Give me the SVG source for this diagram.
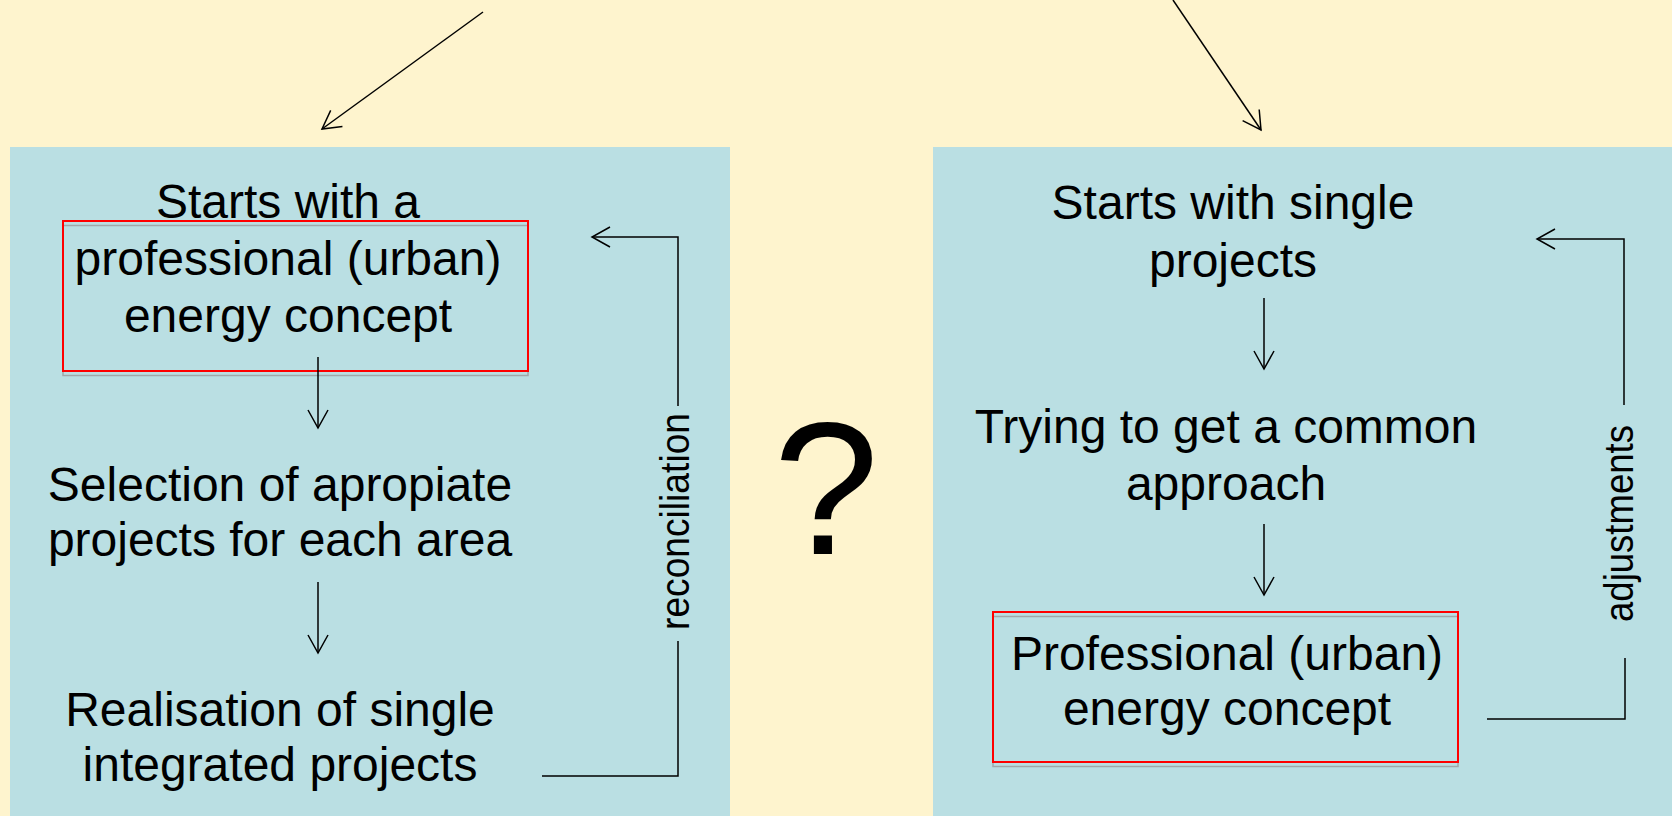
<svg xmlns="http://www.w3.org/2000/svg" width="1672" height="816" viewBox="0 0 1672 816">
<style>
.t{font-family:"Liberation Sans",Arial,sans-serif;font-size:48px;fill:#000;text-anchor:middle}
.r{font-family:"Liberation Sans",Arial,sans-serif;font-size:41px;fill:#000;text-anchor:middle}
.q{font-family:"Liberation Sans",Arial,sans-serif;font-size:190px;fill:#000;text-anchor:middle}
.c{fill:none;stroke:#000;stroke-width:1.5}
.red{fill:none;stroke:#FF0000;stroke-width:2}
.grey{fill:none;stroke:#A0A8AA;stroke-width:1.5}
</style>
<defs>
<marker id="arr" markerUnits="userSpaceOnUse" viewBox="0 0 24 24" markerWidth="24" markerHeight="24" refX="19" refY="12" orient="auto">
<path d="M1,2 L19,12 L1,22" fill="none" stroke="#000" stroke-width="1.5"/>
</marker>
</defs>
<rect width="1672" height="816" fill="#FEF4CE"/>
<g id="panel-left"><rect x="10" y="147" width="720" height="669" fill="#BADFE3"/></g>
<g id="panel-right"><rect x="933" y="147" width="739" height="669" fill="#BADFE3"/></g>
<g id="node-l1">
<rect class="grey" x="63" y="225.5" width="465" height="150"/>
<rect class="red" x="63" y="221" width="465" height="150"/>
<text class="t" x="288" y="218">Starts with a</text>
<text class="t" x="288" y="275">professional (urban)</text>
<text class="t" x="288" y="332">energy concept</text>
</g>
<g id="node-l2">
<text class="t" x="280" y="501">Selection of apropiate</text>
<text class="t" x="280" y="556">projects for each area</text>
</g>
<g id="node-l3">
<text class="t" x="280" y="726">Realisation of single</text>
<text class="t" x="280" y="781">integrated projects</text>
</g>
<g id="node-r1">
<text class="t" x="1233" y="219">Starts with single</text>
<text class="t" x="1233" y="277">projects</text>
</g>
<g id="node-r2">
<text class="t" x="1226" y="443">Trying to get a common</text>
<text class="t" x="1226" y="500">approach</text>
</g>
<g id="node-r3">
<rect class="grey" x="993" y="616.5" width="465" height="150"/>
<rect class="red" x="993" y="612" width="465" height="150"/>
<text class="t" x="1227" y="670">Professional (urban)</text>
<text class="t" x="1227" y="725">energy concept</text>
</g>
<g id="question">
<text class="q" x="826" y="554">?</text>
</g>
<g id="connectors">
<line class="c" x1="483" y1="12" x2="322" y2="129" marker-end="url(#arr)"/>
<line class="c" x1="1173" y1="0" x2="1261" y2="130" marker-end="url(#arr)"/>
<line class="c" x1="318" y1="357" x2="318" y2="428" marker-end="url(#arr)"/>
<line class="c" x1="318" y1="582" x2="318" y2="653" marker-end="url(#arr)"/>
<path class="c" d="M542,776 H678 V641"/>
<path class="c" d="M678,406 V237 H592" marker-end="url(#arr)"/>
<line class="c" x1="1264" y1="298" x2="1264" y2="369" marker-end="url(#arr)"/>
<line class="c" x1="1264" y1="524" x2="1264" y2="595" marker-end="url(#arr)"/>
<path class="c" d="M1487,719 H1625 V658"/>
<path class="c" d="M1624,405 V239 H1537" marker-end="url(#arr)"/>
<text class="r" transform="translate(689,521.5) rotate(-90)" textLength="217" lengthAdjust="spacingAndGlyphs">reconciliation</text>
<text class="r" transform="translate(1633,523.5) rotate(-90)" textLength="197" lengthAdjust="spacingAndGlyphs">adjustments</text>
</g>
</svg>
